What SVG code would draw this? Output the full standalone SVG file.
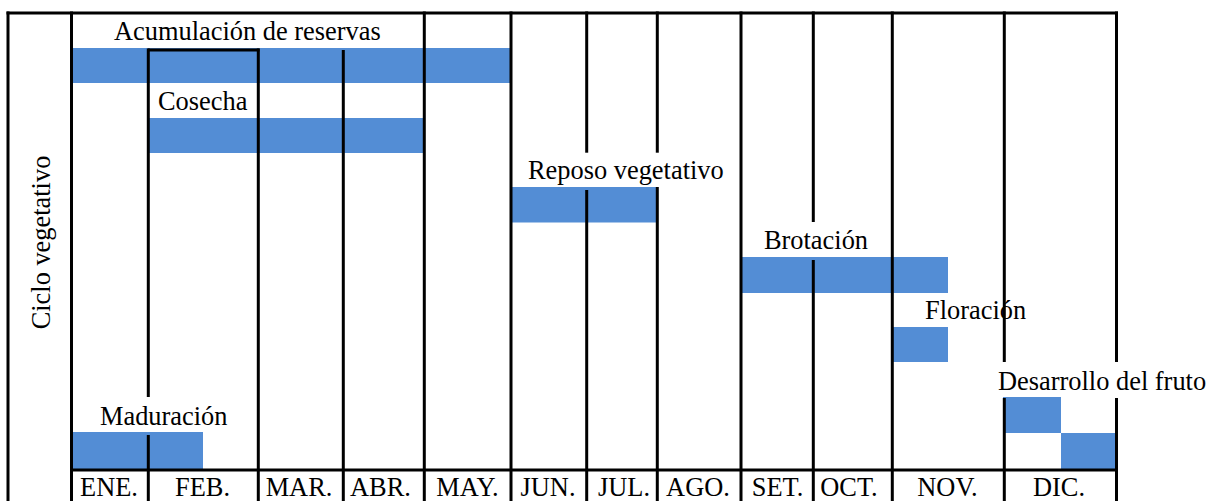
<svg xmlns="http://www.w3.org/2000/svg" width="1209" height="501" viewBox="0 0 1209 501">
  <style>
    text { font-family: "Liberation Serif", "Times New Roman", serif; font-size: 26.4px; fill: #000; }
    .m { text-anchor: middle; }
    .bar { fill: #538DD5; }
    .g line { stroke: #000; stroke-width: 3; }
  </style>
  <rect width="1209" height="501" fill="#fff"/>

  <!-- bars -->
  <g id="acumulacion">
    <rect class="bar" x="71.5" y="48" width="439.5" height="35"/>
    <text x="114" y="40">Acumulación de reservas</text>
  </g>
  <g id="cosecha">
    <rect class="bar" x="148" y="118" width="276" height="35"/>
    <text x="158" y="110">Cosecha</text>
  </g>
  <g id="reposo">
    <rect class="bar" x="512" y="187" width="145" height="35.5"/>
    <text x="528" y="179">Reposo vegetativo</text>
  </g>
  <g id="brotacion">
    <rect class="bar" x="741" y="257" width="207" height="36"/>
    <text class="m" x="816" y="249">Brotación</text>
  </g>
  <g id="floracion">
    <rect class="bar" x="892" y="327" width="56" height="35"/>
    <text x="925" y="319">Floración</text>
  </g>
  <g id="desarrollo">
    <rect class="bar" x="1003" y="397" width="58" height="36"/>
    <rect class="bar" x="1061" y="433" width="54" height="36"/>
    <text x="998" y="390">Desarrollo del fruto</text>
  </g>
  <g id="maduracion">
    <rect class="bar" x="71.5" y="432" width="131.5" height="37"/>
    <text x="100" y="425">Maduración</text>
  </g>

  <!-- grid lines -->
  <g id="connectors" class="g">
    <line x1="6.5" y1="13" x2="1118" y2="13"/>
    <line x1="71.5" y1="470" x2="1118" y2="470"/>
    <line x1="148" y1="50" x2="259.5" y2="50"/>
    <line x1="8" y1="11.5" x2="8" y2="501"/>
    <line x1="71.5" y1="11.5" x2="71.5" y2="501"/>
    <line x1="148.3" y1="48.5" x2="148.3" y2="397"/>
    <line x1="148.3" y1="435" x2="148.3" y2="501"/>
    <line x1="258.3" y1="48.5" x2="258.3" y2="501"/>
    <line x1="343.3" y1="50" x2="343.3" y2="501"/>
    <line x1="424.3" y1="11.5" x2="424.3" y2="501"/>
    <line x1="511" y1="11.5" x2="511" y2="501"/>
    <line x1="586.7" y1="11.5" x2="586.7" y2="152.7"/>
    <line x1="586.7" y1="190" x2="586.7" y2="501"/>
    <line x1="657.3" y1="11.5" x2="657.3" y2="152.7"/>
    <line x1="657.3" y1="187" x2="657.3" y2="501"/>
    <line x1="741" y1="11.5" x2="741" y2="501"/>
    <line x1="813.3" y1="11.5" x2="813.3" y2="222"/>
    <line x1="813.3" y1="260" x2="813.3" y2="501"/>
    <line x1="892.3" y1="11.5" x2="892.3" y2="501"/>
    <line x1="1004.3" y1="11.5" x2="1004.3" y2="362"/>
    <line x1="1004.3" y1="398" x2="1004.3" y2="501"/>
    <line x1="1116.5" y1="11.5" x2="1116.5" y2="362"/>
    <line x1="1116.5" y1="398" x2="1116.5" y2="501"/>
  </g>

  <!-- axis labels -->
  <g id="axis">
    <text class="m" transform="translate(49.5,242.5) rotate(-90)">Ciclo vegetativo</text>
  </g>
  <g id="months">
    <text class="m" x="109" y="496">ENE.</text>
    <text class="m" x="202.5" y="496">FEB.</text>
    <text class="m" x="299" y="496">MAR.</text>
    <text class="m" x="380.5" y="496">ABR.</text>
    <text class="m" x="467.5" y="496">MAY.</text>
    <text class="m" x="548" y="496">JUN.</text>
    <text class="m" x="624" y="496">JUL.</text>
    <text class="m" x="698" y="496">AGO.</text>
    <text class="m" x="777.5" y="496">SET.</text>
    <text class="m" x="849" y="496">OCT.</text>
    <text class="m" x="947.5" y="496">NOV.</text>
    <text class="m" x="1059" y="496">DIC.</text>
  </g>
</svg>
